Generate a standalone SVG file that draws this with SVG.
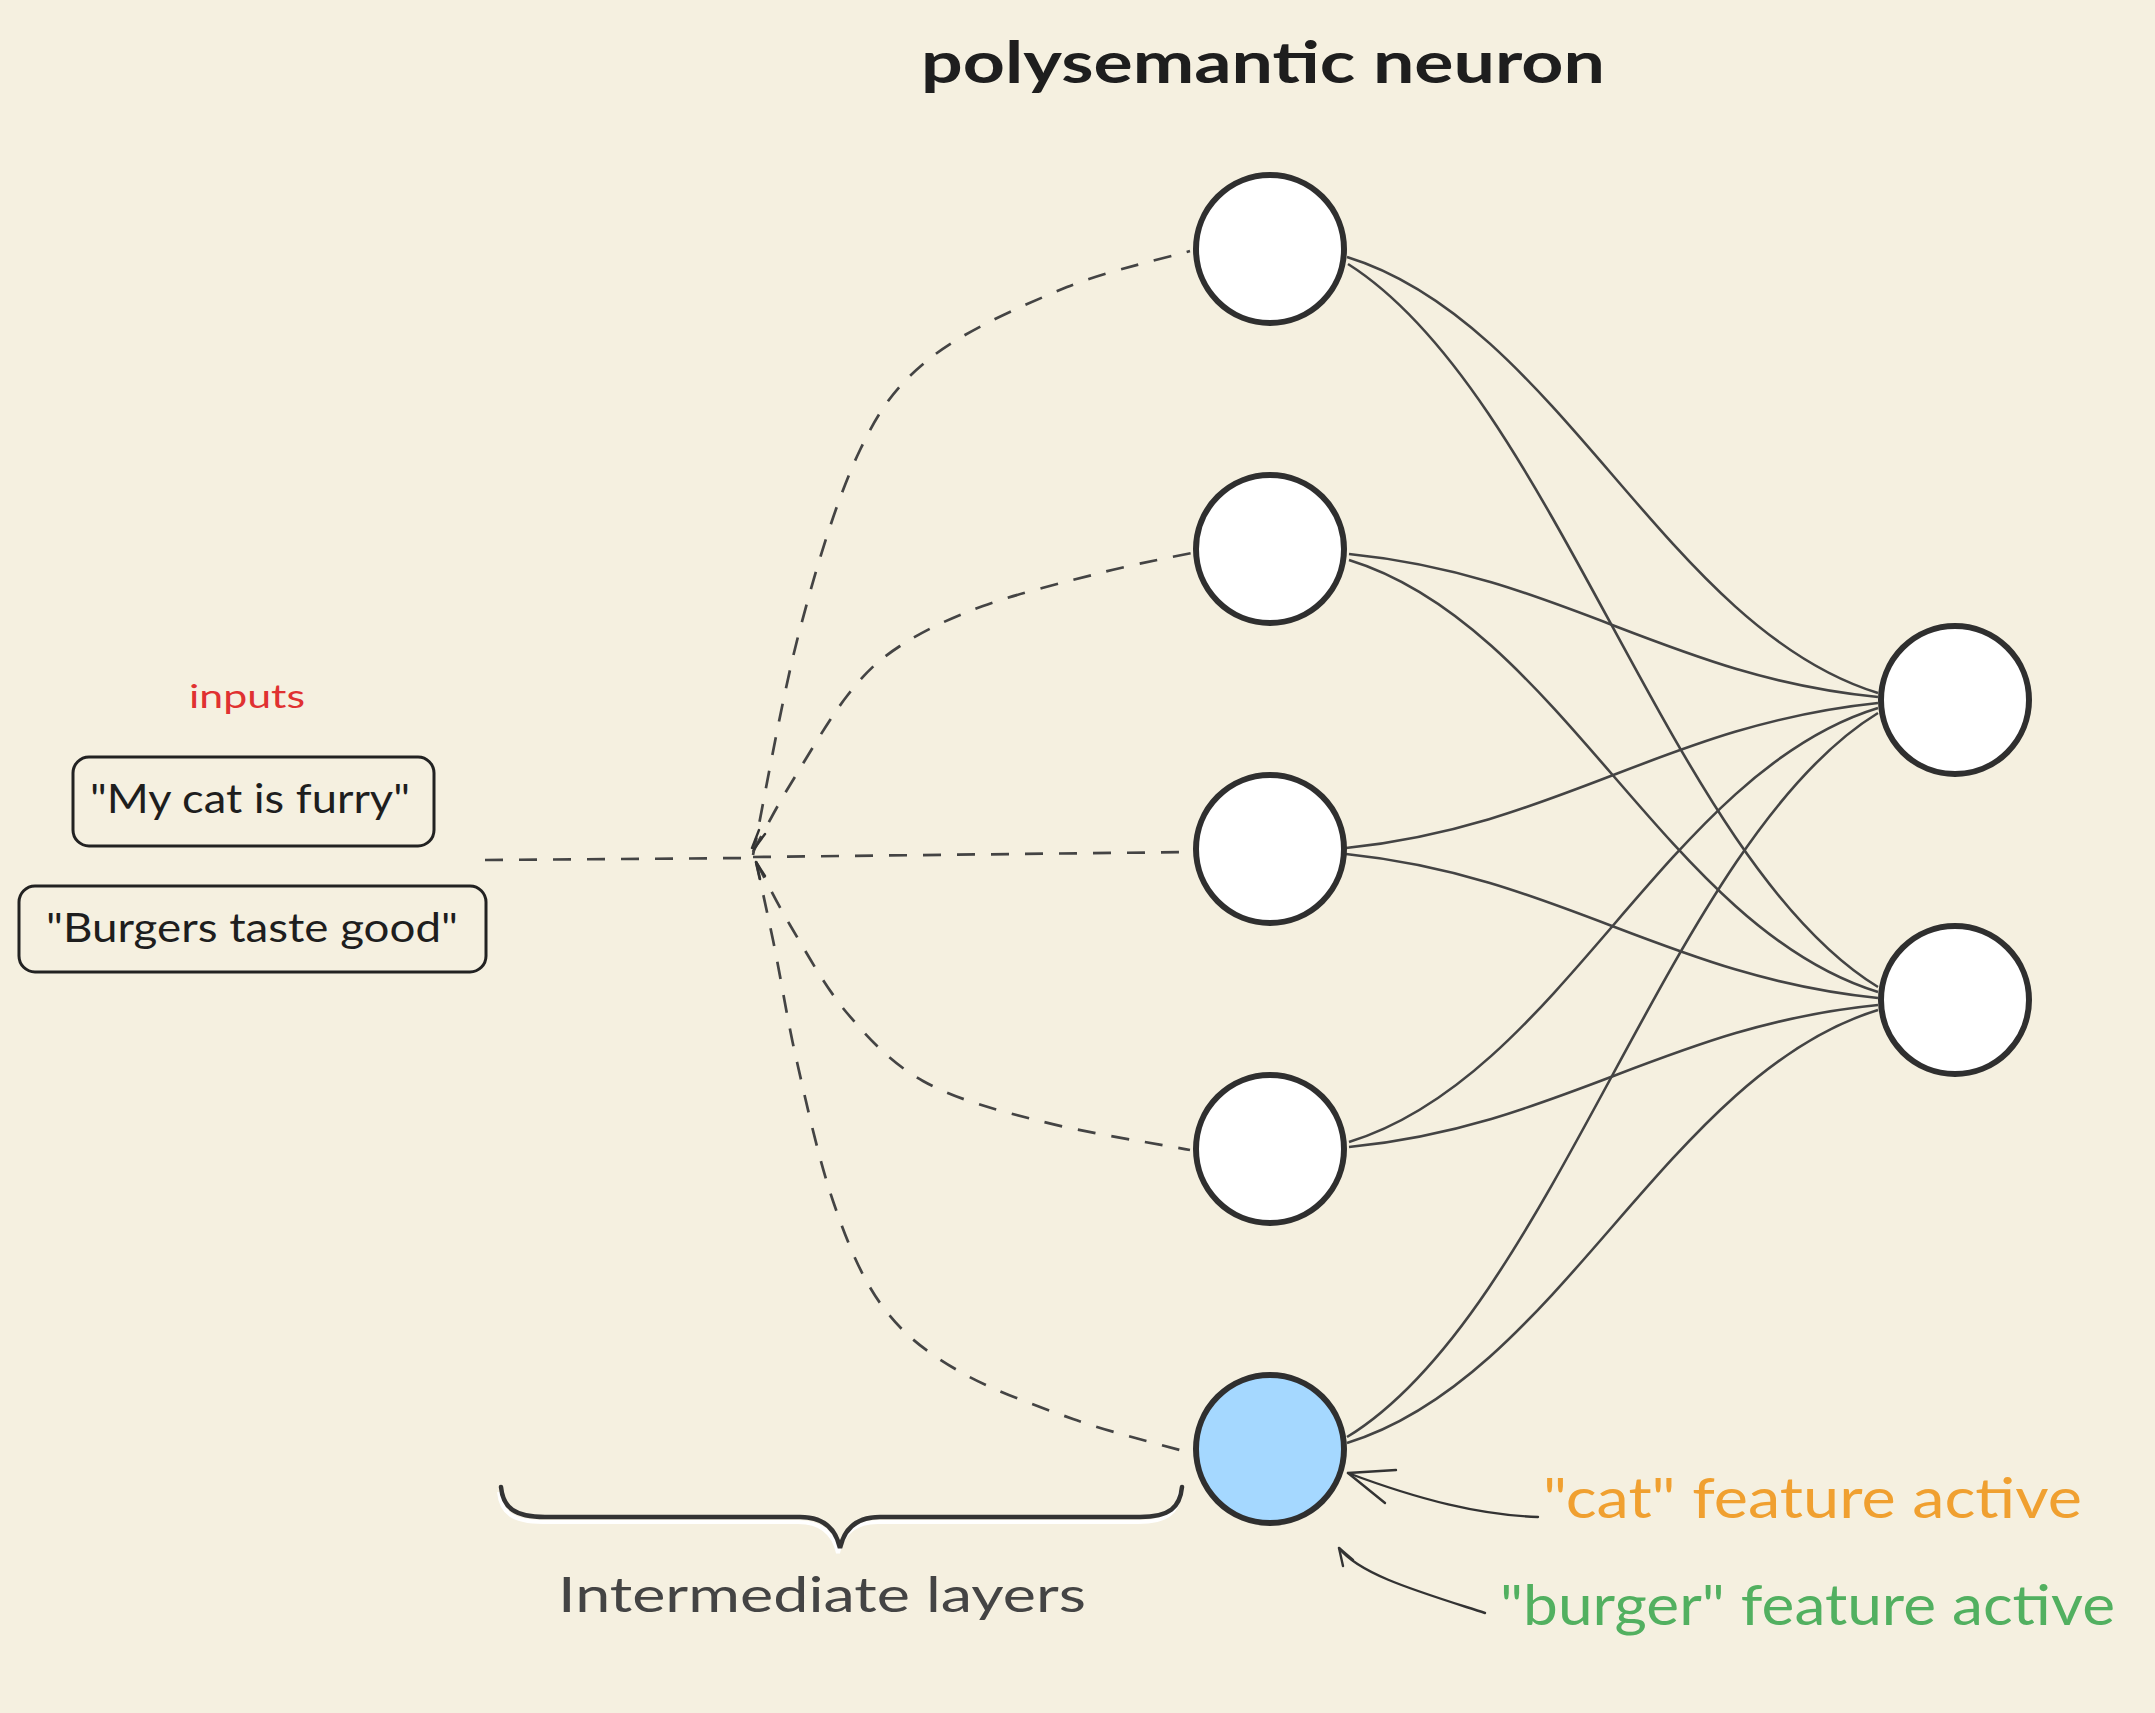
<svg xmlns="http://www.w3.org/2000/svg" width="2155" height="1713" viewBox="0 0 2155 1713">
<defs>
<style>
.bg{fill:#f5f0e0}
.node{fill:#ffffff;stroke:#2f2f2f;stroke-width:6}
.active{fill:#a5d8ff}
.box{fill:none;stroke:#222;stroke-width:3}
.dash{fill:none;stroke:#444;stroke-width:2.7;stroke-dasharray:18 16;stroke-linecap:butt}
.link{fill:none;stroke:#444;stroke-width:2.6}
.arr{fill:none;stroke:#333;stroke-width:2.4;stroke-linecap:round;stroke-linejoin:round}
.t{font-family:Lato,"Noto Sans","Liberation Sans",sans-serif}
</style>
</defs>
<rect class="bg" x="0" y="0" width="2155" height="1713"/>

<text class="t" x="921" y="83" font-size="58" font-weight="bold" fill="#1e1e1e" textLength="684" lengthAdjust="spacingAndGlyphs">polysemantic neuron</text>

<g id="inputs-label">
<text class="t" x="189" y="708" font-size="32" fill="#e03131" textLength="116" lengthAdjust="spacingAndGlyphs">inputs</text>
</g>
<g id="input-cat">
<rect class="box" x="73" y="757" width="361" height="89" rx="16"/>
<text class="t" x="90" y="813" font-size="40" fill="#1e1e1e" textLength="320" lengthAdjust="spacingAndGlyphs">"My cat is furry"</text>
</g>
<g id="input-burger">
<rect class="box" x="19" y="886" width="467" height="86" rx="16"/>
<text class="t" x="46" y="942" font-size="40" fill="#1e1e1e" textLength="412" lengthAdjust="spacingAndGlyphs">"Burgers taste good"</text>
</g>

<g id="connectors">
<path class="dash" d="M 485 860 L 753 858"/>
<path class="dash" d="M 753 857 L 1192 852"/>
<path class="dash" d="M 753 855 C 761 817, 782 696, 800 629 C 818 561, 838 496, 860 450 C 882 404, 899 383, 933 356 C 968 329, 1024 305, 1067 287 C 1110 270, 1170 257, 1190 251"/>
<path class="dash" d="M 753 852 C 759 841, 774 811, 790 785 C 806 759, 829 719, 847 696 C 865 673, 877 661, 900 646 C 923 631, 950 618, 983 606 C 1016 594, 1065 582, 1100 573 C 1135 564, 1177 556, 1192 553"/>
<path class="dash" d="M 756 862 C 762 872, 775 900, 790 925 C 805 950, 825 987, 847 1013 C 869 1039, 891 1063, 923 1081 C 955 1099, 996 1110, 1040 1121 C 1085 1133, 1165 1145, 1190 1150"/>
<path class="dash" d="M 756 862 C 759 875, 766 907, 773 940 C 780 973, 787 1019, 797 1062 C 807 1106, 819 1160, 833 1201 C 847 1242, 862 1279, 883 1307 C 904 1335, 925 1351, 957 1370 C 989 1389, 1034 1405, 1073 1419 C 1112 1433, 1171 1447, 1190 1453"/>
<path class="arr" d="M 759 830 L 752 848 M 765 834 L 754 849"/>
<path class="arr" d="M 756 862 L 760 879 M 756 862 L 765 876"/>

<path class="link" d="M 1347 257 C 1559 322, 1666 628, 1878 693"/>
<path class="link" d="M 1348 264 C 1555 395, 1670 860, 1878 987"/>
<path class="link" d="M 1349 554 C 1561 575, 1666 676, 1878 697"/>
<path class="link" d="M 1349 560 C 1561 625, 1666 927, 1878 992"/>
<path class="link" d="M 1346 848 C 1559 826, 1665 725, 1878 703"/>
<path class="link" d="M 1346 854 C 1559 876, 1665 976, 1878 998"/>
<path class="link" d="M 1349 1142 C 1561 1077, 1666 773, 1878 708"/>
<path class="link" d="M 1349 1147 C 1561 1126, 1666 1026, 1878 1005"/>
<path class="link" d="M 1347 1437 C 1555 1310, 1670 840, 1878 713"/>
<path class="link" d="M 1347 1443 C 1559 1378, 1666 1075, 1878 1010"/>

<path class="arr" d="M 1538 1517 C 1480 1515, 1420 1500, 1348 1473"/>
<path class="arr" d="M 1396 1470 L 1348 1473 L 1385 1503"/>
<path class="arr" d="M 1485 1613 C 1420 1592, 1360 1575, 1339 1548"/>
<path class="arr" d="M 1353 1560 L 1339 1548 L 1343 1566"/>
</g>

<g id="n1"><circle class="node" cx="1270" cy="249" r="74"/></g>
<g id="n2"><circle class="node" cx="1270" cy="549" r="74"/></g>
<g id="n3"><circle class="node" cx="1270" cy="849" r="74"/></g>
<g id="n4"><circle class="node" cx="1270" cy="1149" r="74"/></g>
<g id="n5"><circle class="node active" cx="1270" cy="1449" r="74"/></g>
<g id="o1"><circle class="node" cx="1955" cy="700" r="74"/></g>
<g id="o2"><circle class="node" cx="1955" cy="1000" r="74"/></g>

<g id="brace">
<path d="M 501 1487 C 503 1508, 515 1517, 545 1517 L 800 1517 C 825 1517, 836 1530, 840 1548 C 844 1530, 855 1517, 880 1517 L 1140 1517 C 1170 1517, 1180 1507, 1182 1487" fill="none" stroke="#ffffff" stroke-width="4" transform="translate(-2,5)"/>
<path d="M 501 1487 C 503 1508, 515 1517, 545 1517 L 800 1517 C 825 1517, 836 1530, 840 1548 C 844 1530, 855 1517, 880 1517 L 1140 1517 C 1170 1517, 1180 1507, 1182 1487" fill="none" stroke="#333" stroke-width="4.5" stroke-linecap="round"/>
<text class="t" x="558" y="1612" font-size="48" fill="#444" textLength="528" lengthAdjust="spacingAndGlyphs">Intermediate layers</text>
</g>

<g id="label-cat">
<text class="t" x="1543" y="1518" font-size="56" fill="#f0a030" textLength="539" lengthAdjust="spacingAndGlyphs">"cat" feature active</text>
</g>
<g id="label-burger">
<text class="t" x="1500" y="1625" font-size="56" fill="#52b060" textLength="615" lengthAdjust="spacingAndGlyphs">"burger" feature active</text>
</g>
</svg>
